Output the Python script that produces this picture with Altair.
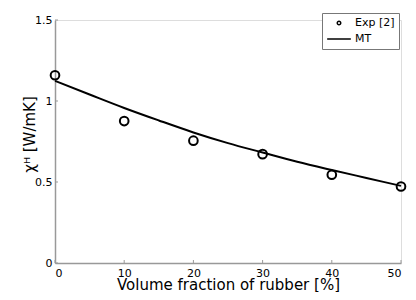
import altair as alt
import pandas as pd

exp_x = [0, 10, 20, 30, 40, 50]
exp_y = [1.159, 0.876, 0.755, 0.672, 0.545, 0.472]
mt_x = [0, 5, 10, 15, 20, 25, 30, 35, 40, 45, 50]
mt_y = [1.124, 1.04, 0.957, 0.88, 0.806, 0.74, 0.682, 0.625, 0.574, 0.525, 0.476]
x_ticks = [0, 10, 20, 30, 40, 50]
y_ticks = [0, 0.5, 1, 1.5]
series = ["Exp [2]", "MT"]

W, H = 346, 243
FONT = "DejaVu Sans"
AX = "#999999"

exp_df = pd.DataFrame({"x": exp_x, "y": exp_y})
mt_df = pd.DataFrame({"x": mt_x, "y": mt_y})
xt_df = pd.DataFrame({"x": x_ticks})
yt_df = pd.DataFrame({"y": y_ticks})
leg_df = pd.DataFrame({"series": series})

xscale = alt.Scale(domain=[0, 50], nice=False)
yscale = alt.Scale(domain=[0, 1.5], nice=False)

xaxis = alt.Axis(values=x_ticks, ticks=False, grid=False, domainColor=AX, domainWidth=1.5,
                 labelFont=FONT, labelFontSize=11, labelColor="black", labelPadding=4,
                 titleFont=FONT, titleFontSize=15, titleFontWeight="normal", titleColor="black",
                 titleBaseline="alphabetic", titleY=26)
yaxis = alt.Axis(values=y_ticks, ticks=False, grid=False, domainColor=AX, domainWidth=1.5,
                 labelFont=FONT, labelFontSize=11, labelColor="black", labelPadding=3,
                 format="~g",
                 titleFont=FONT, titleFontSize=15, titleFontWeight="normal", titleColor="black",
                 titleBaseline="alphabetic", titleX=-21, titleY=114, titleAngle=270)

line = alt.Chart(mt_df).mark_line(color="black", strokeWidth=2, interpolate="monotone").encode(
    x=alt.X("x:Q", scale=xscale, axis=xaxis, title="Volume fraction of rubber [%]"),
    y=alt.Y("y:Q", scale=yscale, axis=yaxis, title="χᴴ [W/mK]"),
)

pts = alt.Chart(exp_df).mark_point(shape="circle", filled=False, color="black",
                                   strokeWidth=2, size=75, opacity=1).encode(
    x=alt.X("x:Q", scale=xscale),
    y=alt.Y("y:Q", scale=yscale),
)

xt = alt.Chart(xt_df).mark_rule(color=AX, strokeWidth=1).encode(
    x=alt.X("x:Q", scale=xscale),
    y=alt.value(H),
    y2=alt.value(H - 3),
)
yt = alt.Chart(yt_df).mark_rule(color=AX, strokeWidth=1).encode(
    y=alt.Y("y:Q", scale=yscale),
    x=alt.value(0),
    x2=alt.value(3),
)

legend_layer = alt.Chart(leg_df).mark_point(opacity=0, filled=False, color="black").encode(
    x=alt.value(0),
    y=alt.value(0),
    shape=alt.Shape("series:N", scale=alt.Scale(domain=series, range=["circle", "stroke"]),
                    legend=alt.Legend(title=None, orient="none", legendX=267, legendY=-7,
                                      strokeColor="#777777", fillColor="white", padding=4,
                                      labelFont=FONT, labelFontSize=11, labelColor="black",
                                      labelOffset=3, rowPadding=4, clipHeight=12,
                                      symbolStrokeColor="black", symbolFillColor="transparent",
                                      symbolStrokeWidth=1.5, symbolOpacity=1)),
    size=alt.Size("series:N", scale=alt.Scale(domain=series, range=[12, 560])),
)

chart = alt.layer(xt, yt, line, pts, legend_layer).properties(
    width=W, height=H,
    autosize=alt.AutoSizeParams(type="none"),
    padding={"left": 47, "top": 12, "right": 7, "bottom": 29},
).configure_view(stroke=None).configure(background="white")

chart.save("out.html", embed_options={"renderer": "svg", "actions": False})
